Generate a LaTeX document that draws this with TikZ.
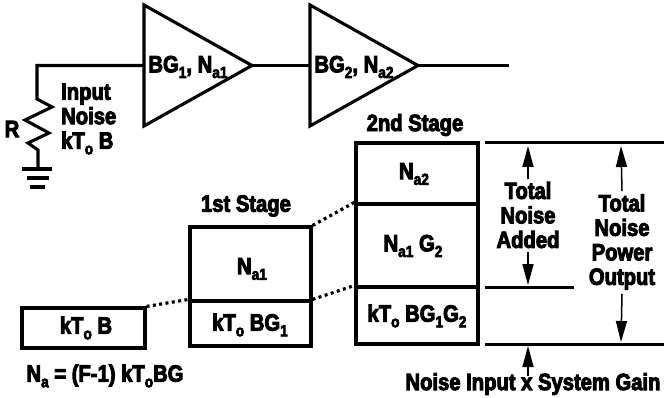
\documentclass[tikz,border=0pt]{standalone}
\usepackage{fontspec}
\setmainfont{Liberation Sans Bold}[FakeStretch=0.86,FakeBold=4]
\usetikzlibrary{arrows.meta}
\newcommand{\lowsub}[1]{\raisebox{-0.24em}{\scalebox{0.68}{#1}}}
\tikzset{
  wire/.style={line width=3.1pt,line join=miter},
  level/.style={line width=3pt},
  stagebox/.style={draw,line width=3.1pt,minimum width=#1,inner sep=0pt},
  dotline/.style={line width=3.2pt,dash pattern=on 3pt off 3.4pt},
  gainarrow/.style={-{Triangle[length=21pt,width=11pt]},line width=1.5pt},
  lab/.style={font=\fontsize{23.5}{24.5}\selectfont,align=center,inner sep=0pt}
}
\begin{document}
\begin{tikzpicture}[x=1pt,y=-1pt]
      \useasboundingbox (0,0) rectangle (664,398);
      % amplifiers
      \coordinate (ampa) at (144,65.5);
      \coordinate (ampaout) at (252,65.5);
      \coordinate (ampb) at (310,65.5);
      \coordinate (ampbout) at (418,65.5);
      \coordinate (outend) at (509,65.5);
      \draw[wire] (144,5) -- (ampaout) -- (144,126) -- cycle;
      \draw[wire] (310,5) -- (ampbout) -- (310,126) -- cycle;
      \draw[wire] (ampaout) -- (ampb);
      \draw[wire] (ampbout) -- (outend);
      % resistor and ground
      \coordinate (resgnd) at (38,169);
      \draw[wire] (ampa) -- (37,65.5) -- (37,99) -- (52,107) -- (25,120) -- (49,133)
        -- (28,143) -- (38,150) -- (resgnd);
      \coordinate (gnda) at (22,169);
      \coordinate (gndb) at (52,169);
      \coordinate (gndc) at (27,178);
      \coordinate (gndd) at (49,178);
      \coordinate (gnde) at (30,187);
      \coordinate (gndf) at (45,187);
      \draw[wire] (gnda) -- (gndb);
      \draw[wire] (gndc) -- (gndd);
      \draw[wire] (gnde) -- (gndf);
      \node[lab] (resname) at (12,129) {R};
      \node[lab,align=left,anchor=west] (inputnoise) at (61,119) {Input\\Noise\\kT\lowsub{o} B};
      \node[lab] (ampalabel) at (188,67) {BG\lowsub{1}, N\lowsub{a1}};
      \node[lab] (ampblabel) at (354,67) {BG\lowsub{2}, N\lowsub{a2}};
      % power stacks
      \node[stagebox=123pt,minimum height=40pt] (inbox) at (83.5,328) {};
      \node[stagebox=121pt,minimum height=74pt] (stageaup) at (250.5,264) {};
      \node[stagebox=121pt,minimum height=45pt] (stagealow) at (250.5,323.5) {};
      \node[stagebox=122pt,minimum height=61pt] (stagebtop) at (417,173.5) {};
      \node[stagebox=122pt,minimum height=83pt] (stagebmid) at (417,245.5) {};
      \node[stagebox=122pt,minimum height=57pt] (stagebbot) at (417,315.5) {};
      \draw[dotline] (inbox.north east) -- (stagealow.north west);
      \draw[dotline] (stageaup.north east) -- (stagebmid.north west);
      \draw[dotline] (stagealow.north east) -- (stagebbot.north west);
      \node[lab] (inboxtext) at (86,328) {kT\lowsub{o} B};
      \node[lab] (nonea) at (252,269) {N\lowsub{a1}};
      \node[lab] (stagealowtext) at (250,325) {kT\lowsub{o} BG\lowsub{1}};
      \node[lab] (nonetwo) at (414,174) {N\lowsub{a2}};
      \node[lab] (nonegain) at (413,246) {N\lowsub{a1} G\lowsub{2}};
      \node[lab] (stagebbottext) at (417,316) {kT\lowsub{o} BG\lowsub{1}G\lowsub{2}};
      \node[lab] (stageatitle) at (246,206) {1st Stage};
      \node[lab] (stagebtitle) at (415,125) {2nd Stage};
      \node[lab] (formula) at (105,376) {N\lowsub{a} = (F-1) kT\lowsub{o}BG};
      % output levels
      \coordinate (topa) at (485,143);
      \coordinate (topb) at (664,143);
      \coordinate (mida) at (485,287);
      \coordinate (midb) at (574,287);
      \coordinate (bota) at (485,344);
      \coordinate (botb) at (664,344);
      \draw[level] (topa) -- (topb);
      \draw[level] (mida) -- (midb);
      \draw[level] (bota) -- (botb);
      \node[lab] (addedtext) at (528,215) {Total\\Noise\\Added};
      \node[lab] (totaltext) at (622,242) {Total\\Noise\\Power\\Output};
      \node[lab] (gaintext) at (533,384) {Noise Input x System Gain};
      \draw[gainarrow] (addedtext.north) ++(0,-3) -- (528,146);
      \draw[gainarrow] (addedtext.south) ++(0,4) -- (528,285);
      \draw[gainarrow] (totaltext.north) ++(0,-3) -- (621,146);
      \draw[gainarrow] (totaltext.south) ++(0,4) -- (621,342);
      \draw[gainarrow] (528,376) -- (528,346);
\end{tikzpicture}
\end{document}
